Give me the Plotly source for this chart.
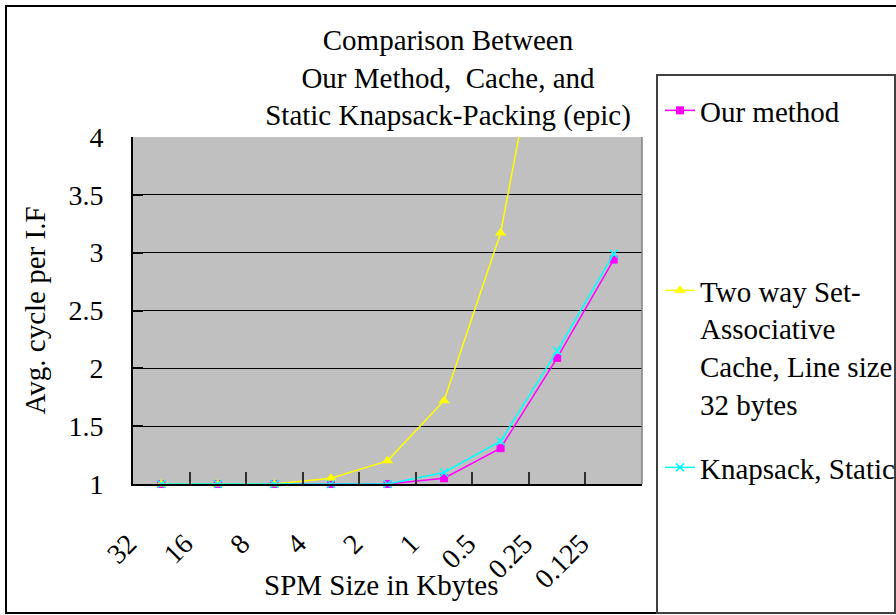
import plotly.graph_objects as go

# SPM sizes (Kbytes) on the category axis
spm_sizes = ["32", "16", "8", "4", "2", "1", "0.5", "0.25", "0.125"]

# Average cycles per instruction fetch for each configuration
our_method = [1.0, 1.0, 1.0, 1.0, 1.0, 1.05, 1.31, 2.09, 2.94]
two_way_cache = [1.0, 1.0, 1.0, 1.05, 1.2, 1.72, 3.17, 5.75, 8.6]
knapsack_static = [1.0, 1.0, 1.0, 1.0, 1.0, 1.10, 1.37, 2.15, 2.99]

series_names = [
    "Our method",
    "Two way Set-<br>Associative<br>Cache, Line size<br>32 bytes",
    "Knapsack, Static",
]

W, H = 896, 615
ML, MR, MT, MB = 133, 254, 137, 131
PW, PH = W - ML - MR, H - MT - MB
FONT = "Liberation Serif"


def px_x(px):
    return (px - ML) / PW


def px_y(py):
    return (H - MB - py) / PH


fig = go.Figure()

fig.add_trace(go.Scatter(
    x=spm_sizes, y=our_method, name=series_names[0], mode="lines+markers",
    line=dict(color="#FF00FF", width=1.5),
    marker=dict(symbol="square", size=8, color="#FF00FF"),
    cliponaxis=False, legend="legend",
))
fig.add_trace(go.Scatter(
    x=spm_sizes, y=two_way_cache, name=series_names[1], mode="lines+markers",
    line=dict(color="#FFFF00", width=1.5),
    marker=dict(symbol="triangle-up", size=10, color="#FFFF00"),
    cliponaxis=False, legend="legend2",
))
fig.add_trace(go.Scatter(
    x=spm_sizes, y=knapsack_static, name=series_names[2], mode="lines+markers",
    line=dict(color="#00FFFF", width=1.5),
    marker=dict(symbol="x-thin", size=8, color="#00FFFF",
                line=dict(color="#00FFFF", width=1.5)),
    cliponaxis=False, legend="legend3",
))

legend_common = dict(
    bgcolor="rgba(0,0,0,0)", borderwidth=0, xanchor="left", yanchor="top",
    font=dict(family=FONT, size=29, color="black"), valign="top",
    itemclick=False, itemdoubleclick=False,
)

fig.update_layout(
    width=W, height=H,
    margin=dict(l=ML, r=MR, t=MT, b=MB, autoexpand=False),
    paper_bgcolor="white",
    plot_bgcolor="#C0C0C0",
    showlegend=True,
    title=dict(
        text="Comparison Between<br>Our Method,  Cache, and<br>Static Knapsack-Packing (epic)",
        x=448 / W, xanchor="center", y=1 - 50 / H, yanchor="middle",
        font=dict(family=FONT, size=29, color="black"),
    ),
    legend=dict(x=px_x(660), y=px_y(85), **legend_common),
    legend2=dict(x=px_x(660), y=px_y(265), **legend_common),
    legend3=dict(x=px_x(660), y=px_y(442), **legend_common),
    xaxis=dict(
        type="category", categoryorder="array", categoryarray=spm_sizes,
        range=[-0.5, len(spm_sizes) - 0.5],
        tickson="boundaries", ticks="inside", ticklen=12, tickwidth=2,
        tickcolor="#303030", showgrid=False, zeroline=False,
        showline=True, linecolor="black", linewidth=2,
        tickangle=-45, ticklabelstandoff=30, ticklabelshift=-33,
        tickfont=dict(family=FONT, size=28, color="black"),
    ),
    yaxis=dict(
        range=[1, 4], dtick=0.5, tick0=1,
        ticks="inside", ticklen=10, tickwidth=1.5, tickcolor="black",
        showgrid=True, gridcolor="black", gridwidth=1, zeroline=False,
        showline=True, linecolor="black", linewidth=2,
        ticklabelstandoff=22,
        tickfont=dict(family=FONT, size=28, color="black"),
    ),
    annotations=[
        dict(text="SPM Size in Kbytes", xref="paper", yref="paper",
             x=px_x(381), y=px_y(585), xanchor="center", yanchor="middle",
             showarrow=False, font=dict(family=FONT, size=29, color="black")),
        dict(text="Avg. cycle per I.F", xref="paper", yref="paper",
             x=px_x(34), y=0.5, xanchor="center", yanchor="middle", textangle=-90,
             showarrow=False, font=dict(family=FONT, size=29, color="black")),
    ],
    shapes=[
        # right edge of the plotting area
        dict(type="line", xref="paper", yref="paper", x0=1, x1=1, y0=0, y1=1,
             line=dict(color="#808080", width=1.5)),
        # chart frame
        dict(type="rect", xref="paper", yref="paper",
             x0=px_x(6), x1=px_x(910), y0=px_y(613), y1=px_y(6),
             line=dict(color="black", width=2)),
        # legend frame
        dict(type="rect", xref="paper", yref="paper",
             x0=px_x(657), x1=px_x(895), y0=px_y(613), y1=px_y(75),
             line=dict(color="#404040", width=2)),
    ],
)

fig.write_html("out.html")
